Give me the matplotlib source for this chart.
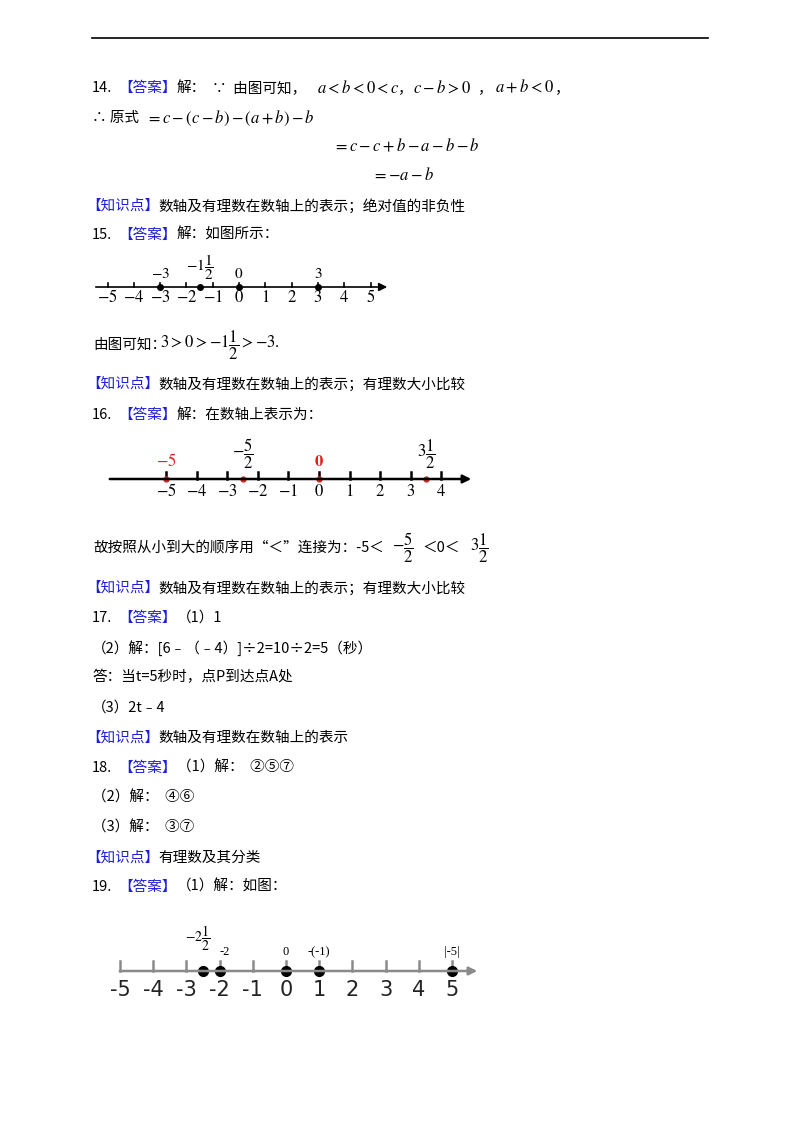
import matplotlib
matplotlib.use("Agg")
import matplotlib.pyplot as plt

plt.rcParams["font.family"] = ["Noto Sans CJK SC", "DejaVu Sans"]
plt.rcParams["mathtext.fontset"] = "stix"

BLUE = "#1f1fd8"
RED = "#e02020"

# number line data
nl15_ticks = [-5, -4, -3, -2, -1, 0, 1, 2, 3, 4, 5]
nl15_points = [-3, -1.5, 0, 3]
nl15_labels = ["$-3$", "$-1\\dfrac{1}{2}$", "$0$", "$3$"]

nl16_ticks = [-5, -4, -3, -2, -1, 0, 1, 2, 3, 4]
nl16_points = [-5, -2.5, 0, 3.5]
nl16_labels = ["$-5$", "$-\\dfrac{5}{2}$", "$\\mathbf{0}$", "$3\\dfrac{1}{2}$"]
nl16_colors = [RED, "black", RED, "black"]

nl19_ticks = [-5, -4, -3, -2, -1, 0, 1, 2, 3, 4, 5]
nl19_points = [-2.5, -2, 0, 1, 5]
nl19_labels = ["$\\mathrm{-2}\\dfrac{1}{2}$", "-2", "0", "-(-1)", "|-5|"]

fig = plt.figure(figsize=(8, 11.32), dpi=100)
ax = fig.add_axes([0, 0, 1, 1])
ax.set_xlim(0, 800)
ax.set_ylim(1132, 0)
ax.axis("off")

ax.plot([92, 708], [38, 38], color="black", lw=1.2)


def t(x, y, s, color="black", size=10.5, **kw):
    ax.text(x, y, s, color=color, fontsize=size, va="center", ha="left", **kw)


def head(y, num, rest):
    t(92, y, num)
    t(118, y, "【答案】", BLUE)
    t(177, y, rest)


def know(y, rest):
    t(86, y, "【知识点】", BLUE)
    t(158, y, rest)


# 14
head(88, "14.", "解：")
t(212, 88, "∵  由图可知，")
t(317, 88, "$a<b<0<c$", size=12)
t(398, 88, "，")
t(413, 88, "$c-b>0$", size=12)
t(478, 88, "，")
t(495, 88, "$a+b<0$", size=12)
t(555, 88, "，")
t(92, 118, "∴ 原式")
t(146, 118, "$=c-(c-b)-(a+b)-b$", size=12)
t(333, 147, "$=c-c+b-a-b-b$", size=12)
t(372, 176, "$=-a-b$", size=12)
know(206, "数轴及有理数在数轴上的表示；绝对值的非负性")

# 15
head(235, "15.", "解：如图所示：")


def numline(y0, x0, unit, xs, xe, ticks, color="black", lw=1.2, th=4):
    ax.annotate("", xy=(xe, y0), xytext=(xs, y0),
                arrowprops=dict(arrowstyle="-|>", color=color, lw=lw,
                                mutation_scale=12))
    for v in ticks:
        ax.plot([x0 + v * unit] * 2, [y0, y0 - th], color=color, lw=lw)


y15, x15, u15 = 287, 239, 26.3
numline(y15, x15, u15, 93, 390, nl15_ticks)
for v in nl15_ticks:
    ax.text(x15 + v * u15, y15 + 11, f"${v}$", ha="center",
            va="center", fontsize=12)
for v, lab in zip(nl15_points, nl15_labels):
    ax.plot(x15 + v * u15, y15, "o", color="black", ms=4)
    yy = 267 if "frac" in lab else 274
    ax.text(x15 + v * u15, yy, lab, ha="center", va="center", fontsize=11)

t(93, 345, "由图可知：")
t(160, 345, "$3>0>-1\\dfrac{1}{2}>-3.$", size=12)
know(384, "数轴及有理数在数轴上的表示；有理数大小比较")

# 16
head(415, "16.", "解：在数轴上表示为：")
y16, x16, u16 = 479, 319, 30.6
numline(y16, x16, u16, 107, 474, nl16_ticks, lw=1.8, th=7)
for v in nl16_ticks:
    ax.text(x16 + v * u16, y16 + 13, f"${v}$", ha="center", va="center",
            fontsize=12)
for v, lab, c in zip(nl16_points, nl16_labels, nl16_colors):
    ax.plot(x16 + v * u16, y16, "o", color=RED, ms=3.5)
    yy = 454 if "frac" in lab else 462
    ax.text(x16 + v * u16, yy, lab, ha="center", va="center", fontsize=12,
            color=c)

t(93, 548, "故按照从小到大的顺序用“＜”连接为：-5＜")
t(392, 548, "$-\\dfrac{5}{2}$", size=12)
t(422, 548, "＜0＜")
t(470, 548, "$3\\dfrac{1}{2}$", size=12)
know(588, "数轴及有理数在数轴上的表示；有理数大小比较")

# 17
head(618, "17.", "（1）1")
t(92, 648, "（2）解：[6﹣（﹣4）]÷2=10÷2=5（秒）")
t(92, 677, "答：当t=5秒时，点P到达点A处")
t(92, 708, "（3）2t﹣4")
know(738, "数轴及有理数在数轴上的表示")

# 18
head(768, "18.", "（1）解：  ②⑤⑦")
t(92, 798, "（2）解：  ④⑥")
t(92, 828, "（3）解：  ③⑦")
know(858, "有理数及其分类")

# 19
head(887, "19.", "（1）解：如图：")
y19, x19, u19 = 971, 286, 33.2
GRAY = "#8a8a8a"
numline(y19, x19, u19, 117, 480, nl19_ticks, color=GRAY, lw=1.8, th=10)
for v in nl19_ticks:
    ax.text(x19 + v * u19, y19 + 19, f"{v}", ha="center", va="center",
            fontsize=15, family="DejaVu Sans", color="#222222")
for v, lab in zip(nl19_points, nl19_labels):
    ax.plot(x19 + v * u19, y19, "o", color="black", ms=7)
    if "frac" in lab:
        ax.text(x19 + v * u19 - 5, 938, lab, ha="center", va="center",
                fontsize=10)
    else:
        ax.text(x19 + v * u19 + (5 if v == -2 else 0), 952, lab, ha="center",
                va="center", fontsize=9, family="Liberation Serif")

fig.savefig("out.png", dpi=100)
